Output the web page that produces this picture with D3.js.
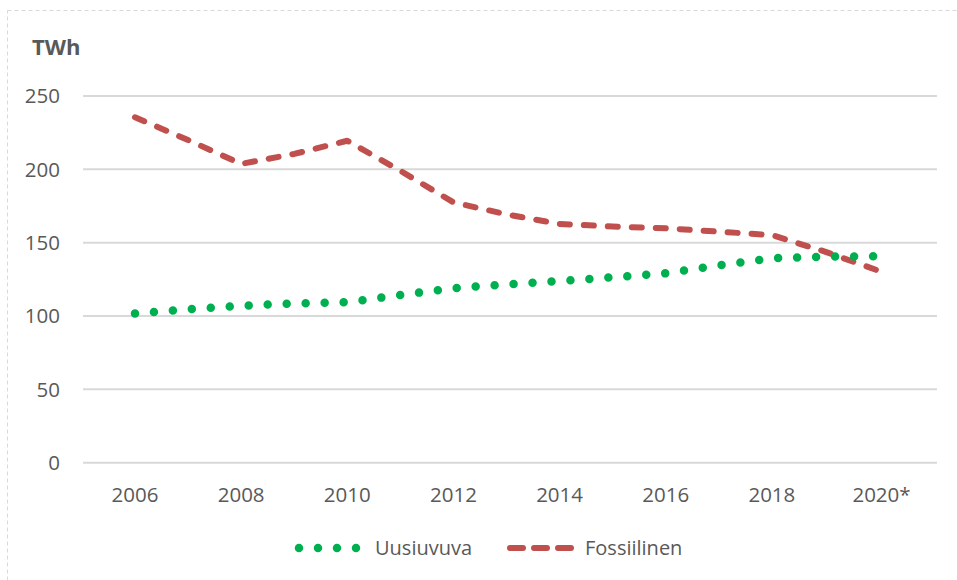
<!DOCTYPE html>
<html>
<head>
<meta charset="utf-8">
<script src="https://cdn.jsdelivr.net/npm/d3@7"></script>
<style>
  body { margin: 0; background: #fff; }
  svg text { font-family: "Open Sans", sans-serif; fill: #595959; }
</style>
</head>
<body>
<div id="chart"></div>
<script>
// data (TWh)
const years = [2006, 2007, 2008, 2009, 2010, 2011, 2012, 2013, 2014, 2015, 2016, 2017, 2018, 2019, 2020];
const uusiuvuva = [101.7, 104.6, 107, 108.6, 109.4, 114.3, 119, 121.5, 123.9, 126.4, 129.1, 134.6, 139.4, 140.5, 140.7];
const fossiilinen = [235.5, 220, 203.7, 210.5, 219.5, 199, 177.5, 169.3, 162.8, 161, 159.8, 157.5, 155.2, 143.9, 131];
const xLabels = ["2006", "2008", "2010", "2012", "2014", "2016", "2018", "2020*"];
const yTicks = [0, 50, 100, 150, 200, 250];
const seriesNames = ["Uusiuvuva", "Fossiilinen"];

let width = 957, height = 580;
let svg = d3.select("#chart").append("svg")
    .attr("width", width)
    .attr("height", height);

// outer dashed frame
svg.append("rect")
    .attr("x", 7.5).attr("y", 10.5)
    .attr("width", 1000).attr("height", 1000)
    .attr("fill", "none")
    .attr("stroke", "#d9d9d9")
    .attr("stroke-dasharray", "4 3");

let gridLeft = 83, gridRight = 937;

let x = d3.scalePoint().domain(years).range([135, 878]);
let y = d3.scaleLinear().domain([0, 250]).range([462.7, 96]);

// grid
svg.selectAll(".grid")
    .data(yTicks)
    .enter().append("line")
    .attr("class", "grid")
    .attr("x1", gridLeft).attr("x2", gridRight)
    .attr("y1", d => y(d)).attr("y2", d => y(d))
    .attr("stroke", "#d9d9d9")
    .attr("stroke-width", 2);

// y labels
svg.selectAll(".ylab")
    .data(yTicks)
    .enter().append("text")
    .attr("class", "ylab")
    .attr("x", 60)
    .attr("y", d => y(d))
    .attr("dy", "0.35em")
    .attr("text-anchor", "end")
    .style("font-size", "20.5px")
    .text(d => d);

// x labels on even years
svg.selectAll(".xlab")
    .data(xLabels)
    .enter().append("text")
    .attr("class", "xlab")
    .attr("x", (d, i) => x(years[i * 2]))
    .attr("y", 495)
    .attr("dy", "0.35em")
    .attr("text-anchor", "middle")
    .style("font-size", "20.5px")
    .text(d => d)
    .each(function(d) {
        // keep the number centred, let the asterisk hang to the right
        if (d.endsWith("*")) {
            let w = this.getComputedTextLength();
            d3.select(this).attr("text-anchor", "start")
                .attr("x", x(2020) - (w - 9) / 2 - 1);
        }
    });

svg.append("text")
    .attr("x", 32)
    .attr("y", 55)
    .style("font-size", "22px")
    .style("font-weight", "bold")
    .text("TWh");

let line = d3.line().x((d, i) => x(years[i])).y(d => y(d));

svg.append("path")
    .datum(fossiilinen)
    .attr("d", line)
    .attr("fill", "none")
    .attr("stroke", "#c0504d")
    .attr("stroke-width", 6)
    .attr("stroke-linecap", "round")
    .attr("stroke-linejoin", "round")
    .attr("stroke-dasharray", "10 14");

svg.append("path")
    .datum(uusiuvuva)
    .attr("d", line)
    .attr("fill", "none")
    .attr("stroke", "#00b050")
    .attr("stroke-width", 8.5)
    .attr("stroke-linecap", "round")
    .attr("stroke-dasharray", "0 19");

// legend
let legendY = 548;
svg.append("line")
    .attr("x1", 299).attr("x2", 357)
    .attr("y1", legendY).attr("y2", legendY)
    .attr("stroke", "#00b050")
    .attr("stroke-width", 8.5)
    .attr("stroke-linecap", "round")
    .attr("stroke-dasharray", "0 19");
svg.append("text")
    .attr("x", 375).attr("y", legendY).attr("dy", "0.35em")
    .style("font-size", "20px")
    .text(seriesNames[0]);

svg.append("line")
    .attr("x1", 510).attr("x2", 571)
    .attr("y1", legendY).attr("y2", legendY)
    .attr("stroke", "#c0504d")
    .attr("stroke-width", 6)
    .attr("stroke-linecap", "round")
    .attr("stroke-dasharray", "13 11");
svg.append("text")
    .attr("x", 585).attr("y", legendY).attr("dy", "0.35em")
    .style("font-size", "20px")
    .text(seriesNames[1]);
</script>
</body>
</html>
